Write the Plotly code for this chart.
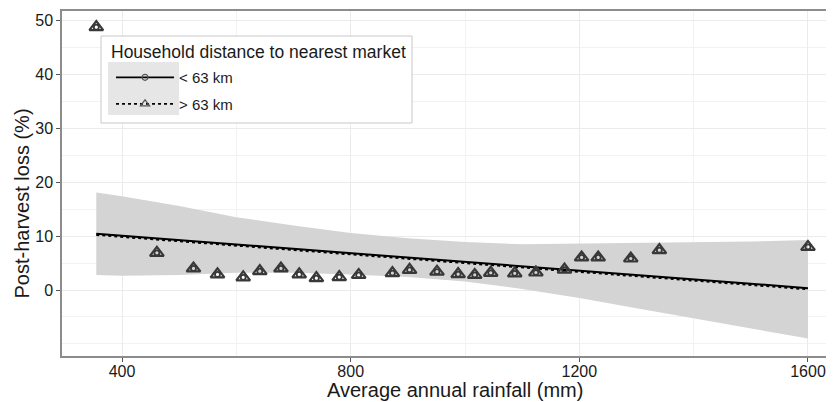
import plotly.graph_objects as go

# ---- data ----
rainfall = [355, 461, 525, 567, 612, 641, 678, 710, 740, 780, 814, 873, 903,
            951, 988, 1017, 1045, 1087, 1124, 1174, 1204, 1233, 1290, 1340, 1600]
loss = [48.8, 6.9, 4.0, 2.9, 2.35, 3.5, 4.0, 2.9, 2.2, 2.4, 2.8, 3.15, 3.75,
        3.4, 2.95, 2.8, 3.2, 3.1, 3.25, 3.8, 6.05, 6.05, 5.85, 7.4, 8.0]

fit_x = [355, 1600]
fit_lt63 = [10.45, 0.35]
fit_gt63 = [10.25, 0.15]

band_x = [355, 400, 500, 600, 700, 800, 900, 1000, 1100, 1200, 1300, 1400, 1500, 1600]
band_upper = [18.1, 17.4, 15.6, 13.5, 12.0, 10.6, 9.6, 8.9, 8.5, 8.6, 8.7, 8.8, 9.0, 9.3]
band_lower = [2.8, 2.65, 2.8, 3.2, 3.2, 2.9, 2.4, 1.6, 0.2, -1.5, -3.4, -5.3, -7.1, -9.0]

x_ticks = [400, 800, 1200, 1600]
x_minor = [600, 1000, 1400]
y_ticks = [0, 10, 20, 30, 40, 50]
y_minor = [-10, -5, 5, 15, 25, 35, 45]

legend_title = "Household distance to nearest market"
group_names = ["< 63 km", "> 63 km"]
x_title = "Average annual rainfall (mm)"
y_title = "Post-harvest loss (%)"

FONT = "Liberation Sans, Arial, sans-serif"
PT_COLOR = "#383838"
TXT = "#1a1a1a"

fig = go.Figure()

# confidence band
fig.add_trace(go.Scatter(x=band_x, y=band_lower, mode="lines", line=dict(width=0),
                         showlegend=False, hoverinfo="skip"))
fig.add_trace(go.Scatter(x=band_x, y=band_upper, mode="lines", line=dict(width=0),
                         fill="tonexty", fillcolor="#d4d4d4",
                         showlegend=False, hoverinfo="skip"))

# fitted lines
fig.add_trace(go.Scatter(x=fit_x, y=fit_lt63, mode="lines",
                         line=dict(color="black", width=2, dash="solid"),
                         showlegend=False))
fig.add_trace(go.Scatter(x=fit_x, y=fit_gt63, mode="lines",
                         line=dict(color="black", width=2.2, dash="dot"),
                         showlegend=False))

# points (both groups overlap)
fig.add_trace(go.Scatter(x=rainfall, y=loss, mode="markers",
                         marker=dict(symbol="circle-open", size=5, color=PT_COLOR,
                                     line=dict(width=1.8, color=PT_COLOR)),
                         showlegend=False))
fig.add_trace(go.Scatter(x=rainfall, y=loss, mode="markers",
                         marker=dict(symbol="triangle-up-open", size=12, color=PT_COLOR,
                                     line=dict(width=2.2, color=PT_COLOR)),
                         showlegend=False))

# legend-only entries
fig.add_trace(go.Scatter(x=[None], y=[None], mode="lines+markers", name=group_names[0],
                         line=dict(color="black", width=1.8, dash="solid"),
                         marker=dict(symbol="circle-open", size=6, color="#555",
                                     line=dict(width=1.2, color="#555")),
                         legendgroup="a"))
fig.add_trace(go.Scatter(x=[None], y=[None], mode="lines+markers", name=group_names[1],
                         line=dict(color="black", width=1.8, dash="dot"),
                         marker=dict(symbol="triangle-up-open", size=8, color="#555",
                                     line=dict(width=1.2, color="#555")),
                         legendgroup="b"))

# legend box and key background (decoration)
fig.add_shape(type="rect", xref="paper", yref="paper",
              x0=0.0505, x1=0.4534, y0=0.6754, y1=0.9275,
              fillcolor="white", line=dict(color="#c8c8c8", width=1), layer="above")
fig.add_shape(type="rect", xref="paper", yref="paper",
              x0=0.0596, x1=0.1516, y0=0.6986, y1=0.8522,
              fillcolor="#e6e6e6", line=dict(width=0), layer="above")

# legend title and axis titles as text annotations
fig.add_annotation(text=legend_title, xref="paper", yref="paper",
                   x=0.0609, y=0.882, xanchor="left", yanchor="middle",
                   showarrow=False, font=dict(size=17.5, color=TXT))
fig.add_annotation(text=x_title, xref="paper", yref="paper",
                   x=0.509, y=0, yshift=-34, xanchor="center", yanchor="middle",
                   showarrow=False, font=dict(size=20, color=TXT))
fig.add_annotation(text=y_title, xref="paper", yref="paper",
                   x=0, xshift=-40, y=0.442, xanchor="center", yanchor="middle",
                   textangle=-90, showarrow=False, font=dict(size=20, color=TXT))

fig.update_layout(
    width=826, height=394,
    margin=dict(l=54, r=0, t=3, b=46, autoexpand=False),
    paper_bgcolor="white", plot_bgcolor="white",
    font=dict(family=FONT, color=TXT),
    showlegend=True,
    legend=dict(
        font=dict(size=15, color=TXT),
        x=0.0635, y=0.855, xanchor="left", yanchor="top",
        bgcolor="rgba(0,0,0,0)", borderwidth=0,
        itemwidth=58, tracegroupgap=4,
    ),
    xaxis=dict(
        range=[295, 1645.5], tickvals=x_ticks, ticktext=[str(v) for v in x_ticks],
        showgrid=True, gridcolor="#ebebeb", gridwidth=1,
        minor=dict(tickvals=x_minor, showgrid=True, gridcolor="#f2f2f2", gridwidth=1, ticks=""),
        ticks="outside", ticklen=4, tickcolor="#555", tickwidth=1,
        tickfont=dict(size=16, color=TXT), ticklabelstandoff=-4,
        showline=True, linecolor="#8c8c8c", linewidth=1.5, mirror=True,
        zeroline=False, automargin=False,
    ),
    yaxis=dict(
        range=[-12.25, 51.8], tickvals=y_ticks, ticktext=[str(v) for v in y_ticks],
        showgrid=True, gridcolor="#ebebeb", gridwidth=1,
        minor=dict(tickvals=y_minor, showgrid=True, gridcolor="#f2f2f2", gridwidth=1, ticks=""),
        ticks="outside", ticklen=4, tickcolor="#555", tickwidth=1,
        tickfont=dict(size=16, color=TXT),
        showline=True, linecolor="#8c8c8c", linewidth=1.5, mirror=False,
        zeroline=False, automargin=False,
    ),
)

fig.write_html("out.html")
